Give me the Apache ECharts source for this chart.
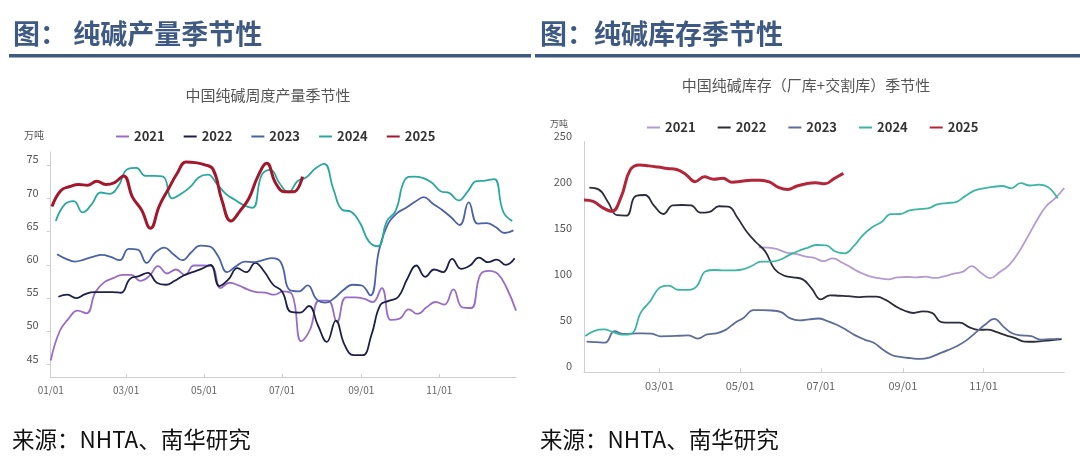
<!DOCTYPE html>
<html><head><meta charset="utf-8">
<script src="https://cdn.jsdelivr.net/npm/echarts@6/dist/echarts.min.js"></script>
<style>html,body{margin:0;padding:0;background:#fff}#c{width:1080px;height:468px}</style>
</head><body><div id="c"></div>
<script>
// ---------- DATA ----------
const years = ['2021','2022','2023','2024','2025'];
// x positions are day-of-year (01/01 = 0); weekly observations start at the given day
const monthTickDays = [0, 59, 120, 181, 243, 304];
const monthTickLabels = ['01/01','03/01','05/01','07/01','09/01','11/01'];
const prodYTicks = [45, 50, 55, 60, 65, 70, 75];

// Left: weekly production (万吨)
const prodStart = {2021: 0, 2022: 6, 2023: 5, 2024: 4, 2025: 1};
const prod2021 = [45.6,50.0,51.9,53.1,52.7,55.9,57.4,58.0,58.5,58.5,57.6,58.3,59.8,58.7,59.3,58.5,59.9,59.9,59.8,56.5,57.3,56.9,56.3,55.9,55.8,55.5,56.0,55.5,48.5,50.3,54.6,54.6,51.4,55.1,55.1,54.9,54.4,56.5,51.7,51.9,53.3,52.6,53.6,54.4,54.0,56.3,53.6,53.5,58.5,59.1,58.6,56.4,53.1];
const prod2022 = [55.2,55.5,55.0,55.6,55.9,55.9,55.9,55.8,57.9,58.3,58.8,57.3,57.0,57.6,58.4,58.9,59.4,60.0,56.8,57.8,59.5,58.9,60.3,59.0,57.0,56.0,52.9,52.8,53.8,50.9,48.4,51.6,47.9,46.4,46.4,49.5,54.0,54.6,55.2,57.9,59.9,58.2,59.3,58.9,60.9,59.4,59.9,61.1,60.4,60.8,60.0,61.0];
const prod2023 = [61.6,60.9,60.5,60.8,61.2,61.5,61.2,60.7,62.4,62.3,60.3,61.9,62.6,61.6,60.7,61.9,62.9,62.8,61.3,58.9,59.8,60.5,60.4,60.7,61.0,60.4,56.2,56.0,56.9,54.8,54.3,55.0,56.2,57.0,56.9,55.4,62.3,66.2,67.8,68.6,69.5,70.2,69.2,68.3,67.2,66.0,69.4,66.2,66.3,65.7,64.8,65.2];
const prod2024 = [66.6,69.1,69.6,67.9,69.1,70.9,70.7,71.9,74.4,74.6,73.4,73.4,73.3,70.0,70.7,71.7,73.2,73.6,72.2,70.7,69.8,69.0,68.6,73.5,74.3,72.3,70.9,72.6,73.2,74.5,75.2,71.5,68.3,68.0,66.3,63.5,62.8,66.6,68.2,72.8,73.3,73.1,72.4,71.1,70.8,69.7,71.0,72.6,72.7,72.9,68.0,66.6];
const prod2025 = [68.8,71.2,71.8,72.1,72.0,72.6,72.1,72.4,73.4,70.2,68.3,65.5,68.9,71.4,73.8,75.5,75.4,75.1,74.4,69.7,66.6,68.1,70.0,73.3,75.3,72.3,71.0,71.0,73.3];

// Right: weekly inventory, factory + delivery warehouse (万吨)
const invStart = {2021: 134, 2022: 6, 2023: 4, 2024: 3, 2025: 2};
const inv2021 = [135.5,135.2,133.5,129.8,128.5,125.6,124.0,120.5,123.5,119.0,113.5,108.0,104.0,102.0,100.8,103.0,103.3,102.9,103.7,102.3,104.0,106.8,108.8,115.0,108.0,102.0,108.5,116.0,129.0,146.0,164.0,179.5,188.5,199.8];
const inv2022 = [200.2,198.3,185.0,170.3,169.8,191.0,192.2,180.5,171.6,181.0,181.4,181.0,173.0,174.0,180.0,179.6,167.5,152.4,141.0,131.0,112.0,105.0,103.0,101.0,91.0,79.0,83.5,83.0,82.5,81.4,82.0,82.0,78.5,72.0,67.0,64.3,66.0,64.5,54.5,53.8,53.8,49.0,46.0,46.3,43.5,40.0,37.0,33.3,33.1,34.0,35.0,36.0];
const inv2023 = [33.2,32.7,32.2,44.5,41.5,42.0,42.3,42.0,39.0,39.2,39.6,40.0,36.5,41.2,42.2,46.0,53.5,59.5,67.5,67.5,67.0,65.2,58.4,56.2,57.3,58.3,55.5,51.5,46.2,40.0,35.5,32.0,24.5,18.5,16.5,15.3,14.5,16.0,20.0,24.0,28.5,34.6,43.0,51.5,58.0,49.5,42.0,40.0,39.2,35.5,36.0,36.3];
const inv2024 = [39.4,45.0,46.5,43.5,40.8,42.0,65.0,77.0,91.5,94.0,89.5,89.3,93.0,109.5,110.9,110.4,110.5,111.5,115.5,120.0,120.0,122.0,127.0,131.5,135.0,138.0,137.5,131.0,129.0,137.0,149.0,157.5,163.0,171.5,171.6,175.5,177.0,177.8,182.0,183.5,184.5,191.0,197.0,199.4,201.0,202.0,199.5,205.0,202.5,203.5,200.5,188.6];
const inv2025 = [186.8,185.2,178.5,174.5,190.0,219.5,224.8,223.8,222.5,221.0,219.8,214.5,206.7,212.0,209.2,210.3,206.0,207.0,208.2,208.3,206.5,200.5,198.2,202.0,204.5,205.5,204.3,210.0,215.7];

// ---------- CHART ----------
const prodVals = {2021: prod2021, 2022: prod2022, 2023: prod2023, 2024: prod2024, 2025: prod2025};
const invVals = {2021: inv2021, 2022: inv2022, 2023: inv2023, 2024: inv2024, 2025: inv2025};
const weekly = (start, vals) => vals.map((v, i) => [start + 7 * i, v]);

const leftColors = {2021:'#966ec8',2022:'#1c2048',2023:'#4b63a6',2024:'#2ba89c',2025:'#a3172d'};
const rightColors = {2021:'#b39bd0',2022:'#2b2d3a',2023:'#5d6c98',2024:'#3cb5a2',2025:'#b3263a'};
const FONT = '"Noto Sans CJK SC", "Noto Sans", sans-serif';
const HEAD = '#3e5a82';

const series = [];
years.forEach(y => {
  series.push({
    name: 'L' + y, type: 'line', xAxisIndex: 0, yAxisIndex: 0,
    data: weekly(prodStart[y], prodVals[y]), smooth: 0.45, showSymbol: false,
    lineStyle: {width: y === '2025' ? 3 : 1.8, color: leftColors[y]}, itemStyle: {color: leftColors[y]}
  });
});
years.forEach(y => {
  series.push({
    name: 'R' + y, type: 'line', xAxisIndex: 1, yAxisIndex: 1,
    data: weekly(invStart[y], invVals[y]), smooth: 0.45, showSymbol: false,
    lineStyle: {width: y === '2025' ? 3 : 1.8, color: rightColors[y]}, itemStyle: {color: rightColors[y]}
  });
});

const axisGray = '#cfcfcf';
const chart = echarts.init(document.getElementById('c'), null, {renderer: 'canvas'});
chart.setOption({
  backgroundColor: '#fff',
  animation: false,
  textStyle: {fontFamily: FONT},
  title: [
    {text: '中国纯碱周度产量季节性', left: 263, top: 83, textAlign: 'center',
     textStyle: {fontSize: 15, fontWeight: 'normal', color: '#555', fontFamily: FONT}},
    {text: '中国纯碱库存（厂库+交割库）季节性', left: 801, top: 73, textAlign: 'center',
     textStyle: {fontSize: 15, fontWeight: 'normal', color: '#555', fontFamily: FONT}}
  ],
  legend: [
    {data: years.map(y => 'L' + y), formatter: n => n.slice(1), left: 111, top: 125,
     icon: 'rect', itemWidth: 13, itemHeight: 2, itemGap: 19,
     textStyle: {fontSize: 13, fontWeight: 'bold', color: '#333', fontFamily: FONT}},
    {data: years.map(y => 'R' + y), formatter: n => n.slice(1), left: 642, top: 116,
     icon: 'rect', itemWidth: 13, itemHeight: 2, itemGap: 22,
     textStyle: {fontSize: 13, fontWeight: 'bold', color: '#333', fontFamily: FONT}}
  ],
  grid: [
    {left: 50.7, right: 564, top: 152, bottom: 90.3},
    {left: 584, right: 15.7, top: 141.7, bottom: 95.7}
  ],
  xAxis: [
    {type: 'value', gridIndex: 0, min: 0, max: 364,
     axisLine: {lineStyle: {color: axisGray}}, splitLine: {show: false},
     axisTick: {inside: true, length: 4, customValues: monthTickDays, lineStyle: {color: axisGray}},
     axisLabel: {customValues: monthTickDays, formatter: v => monthTickLabels[monthTickDays.indexOf(v)],
       fontSize: 10, color: '#666', margin: 8}},
    {type: 'value', gridIndex: 1, min: 2, max: 365,
     axisLine: {lineStyle: {color: axisGray}}, splitLine: {show: false},
     axisTick: {inside: true, length: 4, customValues: monthTickDays.slice(1), lineStyle: {color: axisGray}},
     axisLabel: {customValues: monthTickDays.slice(1), formatter: v => monthTickLabels[monthTickDays.indexOf(v)],
       fontSize: 11, color: '#666', margin: 8}}
  ],
  yAxis: [
    {type: 'value', gridIndex: 0, min: 43, max: 77,
     axisLine: {show: true, lineStyle: {color: axisGray}}, splitLine: {show: false},
     axisTick: {show: true, length: 4, customValues: prodYTicks, lineStyle: {color: axisGray}},
     axisLabel: {customValues: prodYTicks, fontSize: 11, color: '#555', margin: 12, verticalAlign: 'bottom', lineHeight: 12}},
    {type: 'value', gridIndex: 1, min: 0, max: 250, interval: 50,
     axisLine: {show: true, lineStyle: {color: axisGray}}, splitLine: {show: false},
     axisTick: {show: false},
     axisLabel: {fontSize: 11, color: '#555', margin: 12, verticalAlign: 'bottom', lineHeight: 12}}
  ],
  graphic: [
    {type: 'text', left: 13, top: 20, style: {text: '图： 纯碱产量季节性', font: 'bold 27px ' + FONT, fill: HEAD}},
    {type: 'text', left: 540, top: 20, style: {text: '图：纯碱库存季节性', font: 'bold 27px ' + FONT, fill: HEAD}},
    {type: 'rect', shape: {x: 9, y: 54, width: 522, height: 3.5}, style: {fill: HEAD}},
    {type: 'rect', shape: {x: 535, y: 54, width: 545, height: 3.5}, style: {fill: HEAD}},
    {type: 'text', left: 24, top: 130, style: {text: '万吨', font: '10px ' + FONT, fill: '#555'}},
    {type: 'text', left: 550, top: 119, style: {text: '万吨', font: '9px ' + FONT, fill: '#555'}},
    {type: 'text', left: 12, top: 428, style: {text: '来源：NHTA、南华研究', font: '22.5px ' + FONT, fill: '#111'}},
    {type: 'text', left: 540, top: 428, style: {text: '来源：NHTA、南华研究', font: '22.5px ' + FONT, fill: '#111'}}
  ],
  series: series
});
</script>
</body></html>
